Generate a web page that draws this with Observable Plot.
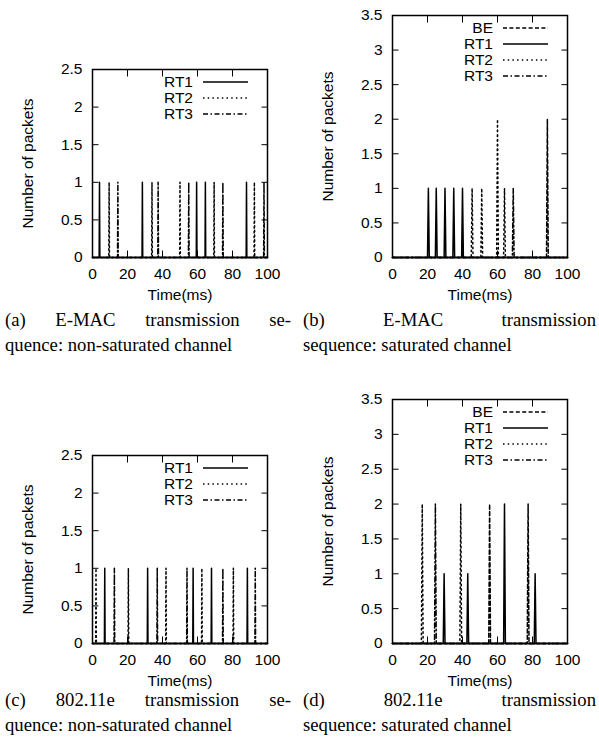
<!DOCTYPE html>
<html>
<head>
<meta charset="utf-8">
<script src="https://cdn.jsdelivr.net/npm/d3@7"></script>
<script src="https://cdn.jsdelivr.net/npm/@observablehq/plot@0.6"></script>
<style>
  html, body { margin: 0; padding: 0; background: #fff; }
  #fig { position: relative; width: 599px; height: 753px; background: #fff; color: #000; overflow: hidden; }
  .panel { position: absolute; }
  .cap { position: absolute; font-family: "Liberation Serif", "Times New Roman", serif; font-size: 18.7px; line-height: 25px; color: #000; }
  .j { text-align: justify; text-align-last: justify; }
</style>
</head>
<body>
<div id="fig">
  <div class="panel" id="pa" style="left:0px;top:0px"></div>
  <div class="panel" id="pb" style="left:300px;top:0px"></div>
  <div class="panel" id="pc" style="left:0px;top:380px"></div>
  <div class="panel" id="pd" style="left:300px;top:380px"></div>
  <div class="cap" style="left:5px;top:307px;width:286px"><div class="j">(a) E-MAC transmission se-</div><div>quence: non-saturated channel</div></div>
  <div class="cap" style="left:303px;top:307px;width:293px"><div class="j">(b) E-MAC transmission</div><div>sequence: saturated channel</div></div>
  <div class="cap" style="left:5px;top:687px;width:286px"><div class="j">(c) 802.11e transmission se-</div><div>quence: non-saturated channel</div></div>
  <div class="cap" style="left:303px;top:687px;width:293px"><div class="j">(d) 802.11e transmission</div><div>sequence: saturated channel</div></div>
</div>
<script>
// ---- tick labels / axis ----
const timeTicks = [0, 20, 40, 60, 80, 100];
const yTicksNonSat = [0, 0.5, 1, 1.5, 2, 2.5];
const yTicksSat = [0, 0.5, 1, 1.5, 2, 2.5, 3, 3.5];
const xLabel = "Time(ms)";
const yLabel = "Number of packets";

// ---- series: [time (ms), number of packets] of each transmission ----
// (a) E-MAC, non-saturated channel
const emacNonSatRT1 = [[4, 1], [28.5, 1], [59.5, 1], [64.5, 1], [88, 1]];
const emacNonSatRT2 = [[9.5, 1], [34, 1], [50, 1], [69.5, 1], [92.5, 1]];
const emacNonSatRT3 = [[14.5, 1], [37.5, 1], [55, 1], [74.5, 1], [98, 1]];
// (b) E-MAC, saturated channel
const emacSatBE  = [[88.5, 2]];
const emacSatRT1 = [[20.5, 1], [25, 1], [30, 1], [35, 1], [40, 1]];
const emacSatRT2 = [[45.5, 1], [51, 1], [60, 2], [64, 1]];
const emacSatRT3 = [[69, 1]];
// (c) 802.11e, non-saturated channel
const eNonSatRT1 = [[7, 1], [31.5, 1], [57.5, 1], [68, 1], [88.5, 1]];
const eNonSatRT2 = [[2, 1], [20.5, 1], [42, 1], [62.5, 1], [80.5, 1]];
const eNonSatRT3 = [[12.5, 1], [37, 1], [54, 1], [74.5, 1], [93, 1]];
// (d) 802.11e, saturated channel
const eSatBE  = [[55.5, 2], [77.5, 2]];
const eSatRT1 = [[29.5, 1], [43, 1], [64, 2], [81.5, 1]];
const eSatRT2 = [[17, 2], [39, 2]];
const eSatRT3 = [[24.5, 2]];

const dash = { BE: "4,2.4", RT1: null, RT2: "1.5,3.2", RT3: "5,2.5,1.5,2.5" };
const FS = 15.5;

function panel(target, cfg) {
  const { series, yMax, yTicks, halfWidth, width, height, mt, mb, ml, mr } = cfg;
  const lines = series.map(([name, spikes]) => {
    const pts = [{ t: 0, n: 0 }];
    for (const [t, n] of spikes) {
      pts.push({ t: t - halfWidth, n: 0 }, { t: t, n: n }, { t: t + halfWidth, n: 0 });
    }
    pts.push({ t: 100, n: 0 });
    return Plot.line(pts, { x: "t", y: "n", stroke: "black", strokeWidth: 1.5, strokeDasharray: dash[name] });
  });
  const svg = Plot.plot({
    width, height,
    marginTop: mt, marginBottom: mb, marginLeft: ml, marginRight: mr,
    x: { domain: [0, 100] },
    y: { domain: [0, yMax] },
    style: { fontFamily: "'Liberation Sans', Arial, Helvetica, sans-serif", fontSize: FS + "px", background: "white", color: "black", overflow: "visible" },
    marks: [
      ...lines,
      Plot.axisX({ ticks: timeTicks, anchor: "bottom", tickSize: 6.5, dy: -6.5, fill: "none", label: null }),
      Plot.axisX({ ticks: timeTicks, anchor: "top", tickSize: 6.5, dy: 6.5, fill: "none", label: null }),
      Plot.axisY({ ticks: yTicks, anchor: "left", tickSize: 6.5, dx: 6.5, fill: "none", label: null }),
      Plot.axisY({ ticks: yTicks, anchor: "right", tickSize: 6.5, dx: -6.5, fill: "none", label: null }),
      Plot.axisX({ ticks: timeTicks, anchor: "bottom", tickSize: 0, tickPadding: 10, tickFormat: d => String(d), fontSize: FS, label: null }),
      Plot.axisY({ ticks: yTicks, anchor: "left", tickSize: 0, tickPadding: 10, tickFormat: d => String(d), fontSize: FS, label: null }),
      Plot.frame({ stroke: "black", strokeWidth: 1.5 }),
      Plot.text([xLabel], { text: d => d, frameAnchor: "bottom", dy: 38, fontSize: FS, textAnchor: "middle", lineAnchor: "middle" }),
      Plot.text([yLabel], { text: d => d, frameAnchor: "left", dx: -64, rotate: -90, fontSize: FS, textAnchor: "middle", lineAnchor: "middle" })
    ]
  });
  // key (legend) inside the frame, upper right
  const g = d3.select(svg).append("g").attr("font-size", FS).attr("fill", "black");
  series.forEach(([name], i) => {
    const y = mt + 13 + 16 * i;
    const xr = width - mr;
    g.append("text").attr("x", xr - 74).attr("y", y).attr("dy", "0.35em").attr("text-anchor", "end").text(name);
    const ln = g.append("line").attr("x1", xr - 64).attr("x2", xr - 19).attr("y1", y).attr("y2", y)
      .attr("stroke", "black").attr("stroke-width", 1.6);
    if (dash[name]) ln.attr("stroke-dasharray", dash[name]);
  });
  document.getElementById(target).appendChild(svg);
}

panel("pa", { series: [["RT1", emacNonSatRT1], ["RT2", emacNonSatRT2], ["RT3", emacNonSatRT3]],
  yMax: 2.5, yTicks: yTicksNonSat, halfWidth: 0.2, width: 300, height: 310, mt: 69, mb: 53, ml: 92, mr: 33 });
panel("pb", { series: [["BE", emacSatBE], ["RT1", emacSatRT1], ["RT2", emacSatRT2], ["RT3", emacSatRT3]],
  yMax: 3.5, yTicks: yTicksSat, halfWidth: 0.5, width: 299, height: 310, mt: 15, mb: 53, ml: 92, mr: 32 });
panel("pc", { series: [["RT1", eNonSatRT1], ["RT2", eNonSatRT2], ["RT3", eNonSatRT3]],
  yMax: 2.5, yTicks: yTicksNonSat, halfWidth: 0.2, width: 300, height: 310, mt: 75, mb: 47, ml: 92, mr: 33 });
panel("pd", { series: [["BE", eSatBE], ["RT1", eSatRT1], ["RT2", eSatRT2], ["RT3", eSatRT3]],
  yMax: 3.5, yTicks: yTicksSat, halfWidth: 0.5, width: 299, height: 310, mt: 19, mb: 47, ml: 92, mr: 32 });
</script>
</body>
</html>
